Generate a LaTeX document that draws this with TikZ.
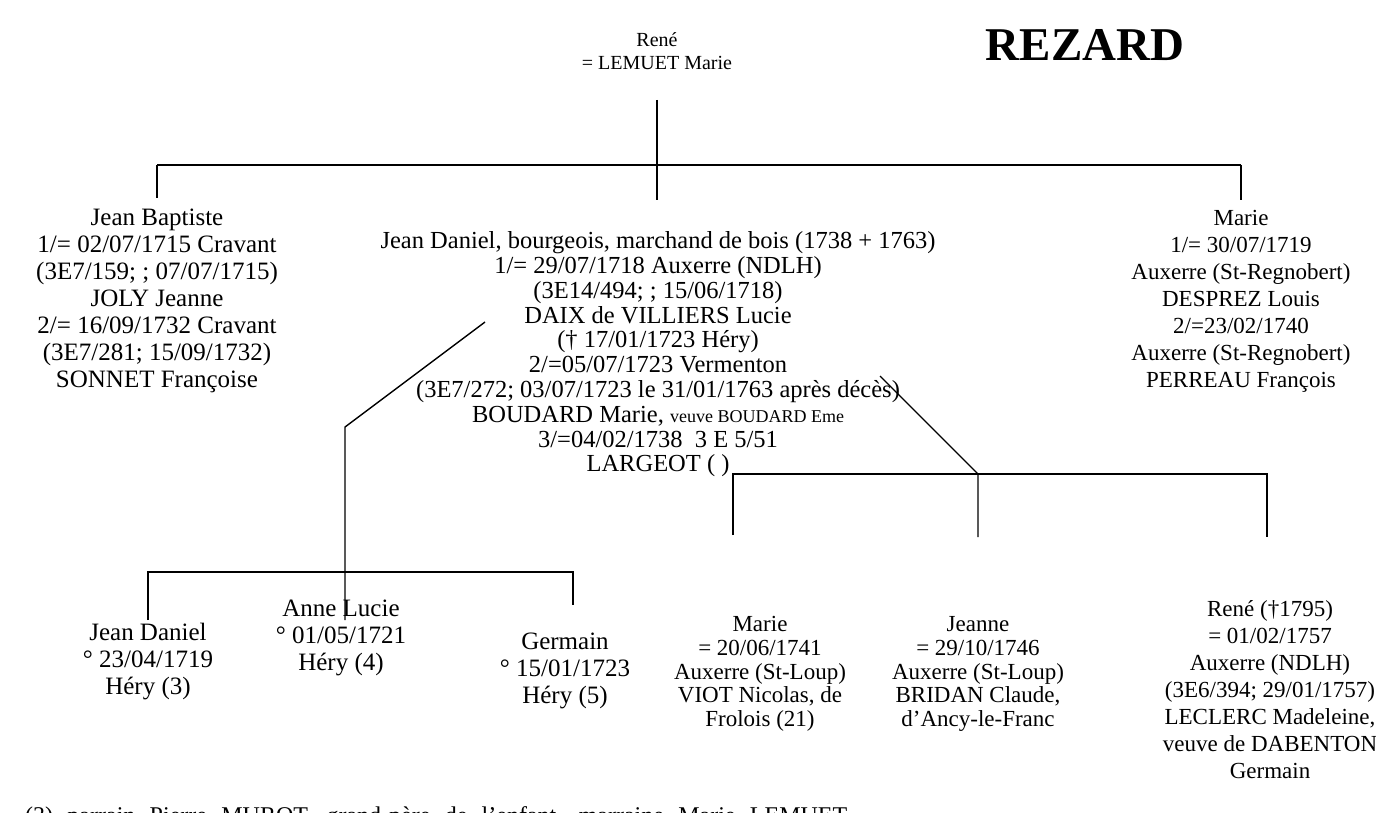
\documentclass[tikz,border=0pt]{standalone}
\usepackage{fontspec}
\setmainfont{Liberation Serif}
\begin{document}
\begin{tikzpicture}[x=1pt,y=-1pt,
  txt/.style={align=center,inner sep=0pt,font=\fontsize{23}{27}\selectfont},
  big/.style={align=center,inner sep=0pt,font=\fontsize{25}{27}\selectfont},
  mid/.style={align=center,inner sep=0pt,font=\fontsize{24.5}{24.8}\selectfont},
  ln/.style={line width=1.4pt}]
\useasboundingbox (0,0) rectangle (1376,813);
% title and root
\node[align=center,inner sep=0pt,font=\fontsize{20}{23}\selectfont] (rene) at (657,51.5) {René\\= LEMUET Marie};
\node[inner sep=0pt,font=\fontsize{47}{50}\selectfont\bfseries] (title) at (1085,45) {REZARD};
% generation 1
\node[big] (jb) at (157,301) {Jean Baptiste\\1/= 02/07/1715 Cravant\\(3E7/159; ; 07/07/1715)\\JOLY Jeanne\\2/= 16/09/1732 Cravant\\(3E7/281; 15/09/1732)\\SONNET Françoise};
\node[mid] (jd) at (658,354.5) {Jean Daniel, bourgeois, marchand de bois (1738 + 1763)\\1/= 29/07/1718 Auxerre (NDLH)\\(3E14/494; ; 15/06/1718)\\DAIX de VILLIERS Lucie\\(† 17/01/1723 Héry)\\2/=05/07/1723 Vermenton\\(3E7/272; 03/07/1723 le 31/01/1763 après décès)\\BOUDARD Marie, {\fontsize{18}{20}\selectfont veuve BOUDARD Eme}\\3/=04/02/1738~~3 E 5/51\\LARGEOT ( )};
\node[txt] (ma) at (1241,301) {Marie\\1/= 30/07/1719\\Auxerre (St-Regnobert)\\DESPREZ Louis\\2/=23/02/1740\\Auxerre (St-Regnobert)\\PERREAU François};
% generation 2, first marriage
\node[big] (c1) at (148,662) {Jean Daniel\\° 23/04/1719\\Héry (3)};
\node[big] (c2) at (341,638) {Anne Lucie\\° 01/05/1721\\Héry (4)};
\node[big] (c3) at (565,671) {Germain\\° 15/01/1723\\Héry (5)};
% generation 2, second marriage
\node[txt,font=\fontsize{23}{23.6}\selectfont] (c4) at (760,674) {Marie\\= 20/06/1741\\Auxerre (St-Loup)\\VIOT Nicolas, de\\Frolois (21)};
\node[txt,font=\fontsize{23}{23.6}\selectfont] (c5) at (978,674) {Jeanne\\= 29/10/1746\\Auxerre (St-Loup)\\BRIDAN Claude,\\d’Ancy-le-Franc};
\node[txt] (c6) at (1270,690) {René (†1795)\\= 01/02/1757\\Auxerre (NDLH)\\(3E6/394; 29/01/1757)\\LECLERC Madeleine,\\veuve de DABENTON\\Germain};
% footnote (cut by the lower edge, as in the original)
\node[inner sep=0pt,anchor=base west,font=\fontsize{24}{27}\selectfont] (note) at (25,823) {\makebox[822pt][s]{(3) parrain Pierre MUROT, grand-père de l’enfant, marraine Marie LEMUET}};
% connectors top
\coordinate (r0) at (657,100);
\coordinate (r1) at (657,165);
\coordinate (bl) at (157,165);
\coordinate (br) at (1241,165);
\coordinate (dl) at (157,198);
\coordinate (dm) at (657,200);
\coordinate (dr) at (1241,200);
\draw[ln] (r0) -- (r1);
\draw[ln,line width=2pt] (bl) -- (br);
\draw[ln] (bl) -- (dl);
\draw[ln] (r1) -- (dm);
\draw[ln] (br) -- (dr);
% first marriage children
\coordinate (a0) at (485,322);
\coordinate (a1) at (345,427);
\coordinate (a2) at (345,620);
\coordinate (b1) at (148,572);
\coordinate (b2) at (573,572);
\coordinate (b1d) at (148,620);
\coordinate (b2d) at (573,605);
\draw[ln] (a0) -- (a1) -- (a2);
\draw[ln] (b1d) -- (b1) -- (b2) -- (b2d);
% second marriage children
\coordinate (e0) at (880,376);
\coordinate (e1) at (978,474);
\coordinate (f1) at (733,474);
\coordinate (f2) at (1267,474);
\coordinate (f1d) at (733,535);
\coordinate (e1d) at (978,537);
\coordinate (f2d) at (1267,537);
\draw[ln] (e0) -- (e1) -- (e1d);
\draw[ln] (f1d) -- (f1) -- (f2) -- (f2d);
\end{tikzpicture}
\end{document}
